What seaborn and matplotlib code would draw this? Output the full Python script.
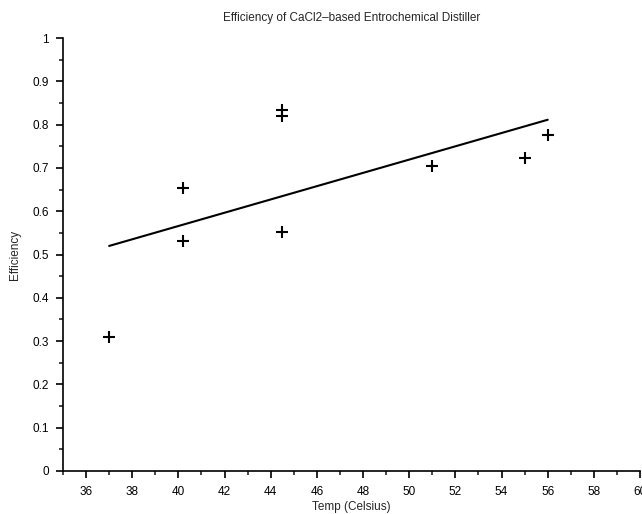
import matplotlib
matplotlib.use("Agg")
import matplotlib.pyplot as plt
import seaborn as sns
import numpy as np
import pandas as pd
from matplotlib.ticker import MultipleLocator

temps = [37.0, 40.2, 40.2, 44.5, 44.5, 44.5, 51.0, 55.0, 56.0]
efficiency = [0.31, 0.654, 0.531, 0.834, 0.82, 0.552, 0.704, 0.723, 0.776]

title = "Efficiency of CaCl2\u2013based Entrochemical Distiller"
xlabel = "Temp (Celsius)"
ylabel = "Efficiency"

df = pd.DataFrame({"temp": temps, "eff": efficiency})

sns.set_style("ticks")
plt.rcParams['font.family'] = ['Liberation Sans', 'DejaVu Sans']

fig = plt.figure(figsize=(6.42, 5.14), dpi=100)
ax = fig.add_axes([0.0981, 0.0837, 0.8989, 0.8423])

sns.regplot(data=df, x="temp", y="eff", ax=ax, ci=None, truncate=True,
            marker="+", color="black",
            scatter_kws={"s": 64, "linewidths": 1.5, "alpha": 1},
            line_kws={"linewidth": 1.5})

ax.set_xlim(35, 60)
ax.set_ylim(0, 1)
ax.xaxis.set_major_locator(MultipleLocator(2))
ax.xaxis.set_minor_locator(MultipleLocator(1))
ax.yaxis.set_major_locator(MultipleLocator(0.1))
ax.yaxis.set_minor_locator(MultipleLocator(0.05))
ax.set_yticks(np.arange(0, 1.01, 0.1))
ax.set_yticklabels([("%g" % round(v, 1)) for v in np.arange(0, 1.01, 0.1)])
ax.set_xticks(np.arange(36, 61, 2))
ax.tick_params(which="major", direction="out", length=5, width=1.2, labelsize=8.5, colors="black", pad=5)
ax.tick_params(axis="x", which="major", pad=6)
ax.tick_params(which="minor", direction="out", length=3, width=1.2)
for s in ["left", "bottom"]:
    ax.spines[s].set_linewidth(1.2)
    ax.spines[s].set_color("black")
sns.despine(ax=ax)

ax.set_title(title, fontsize=8.5, pad=12)
ax.set_xlabel(xlabel, fontsize=8.5, labelpad=2)
ax.set_ylabel(ylabel, fontsize=8.5, labelpad=8)

fig.savefig("out.png", dpi=100)
